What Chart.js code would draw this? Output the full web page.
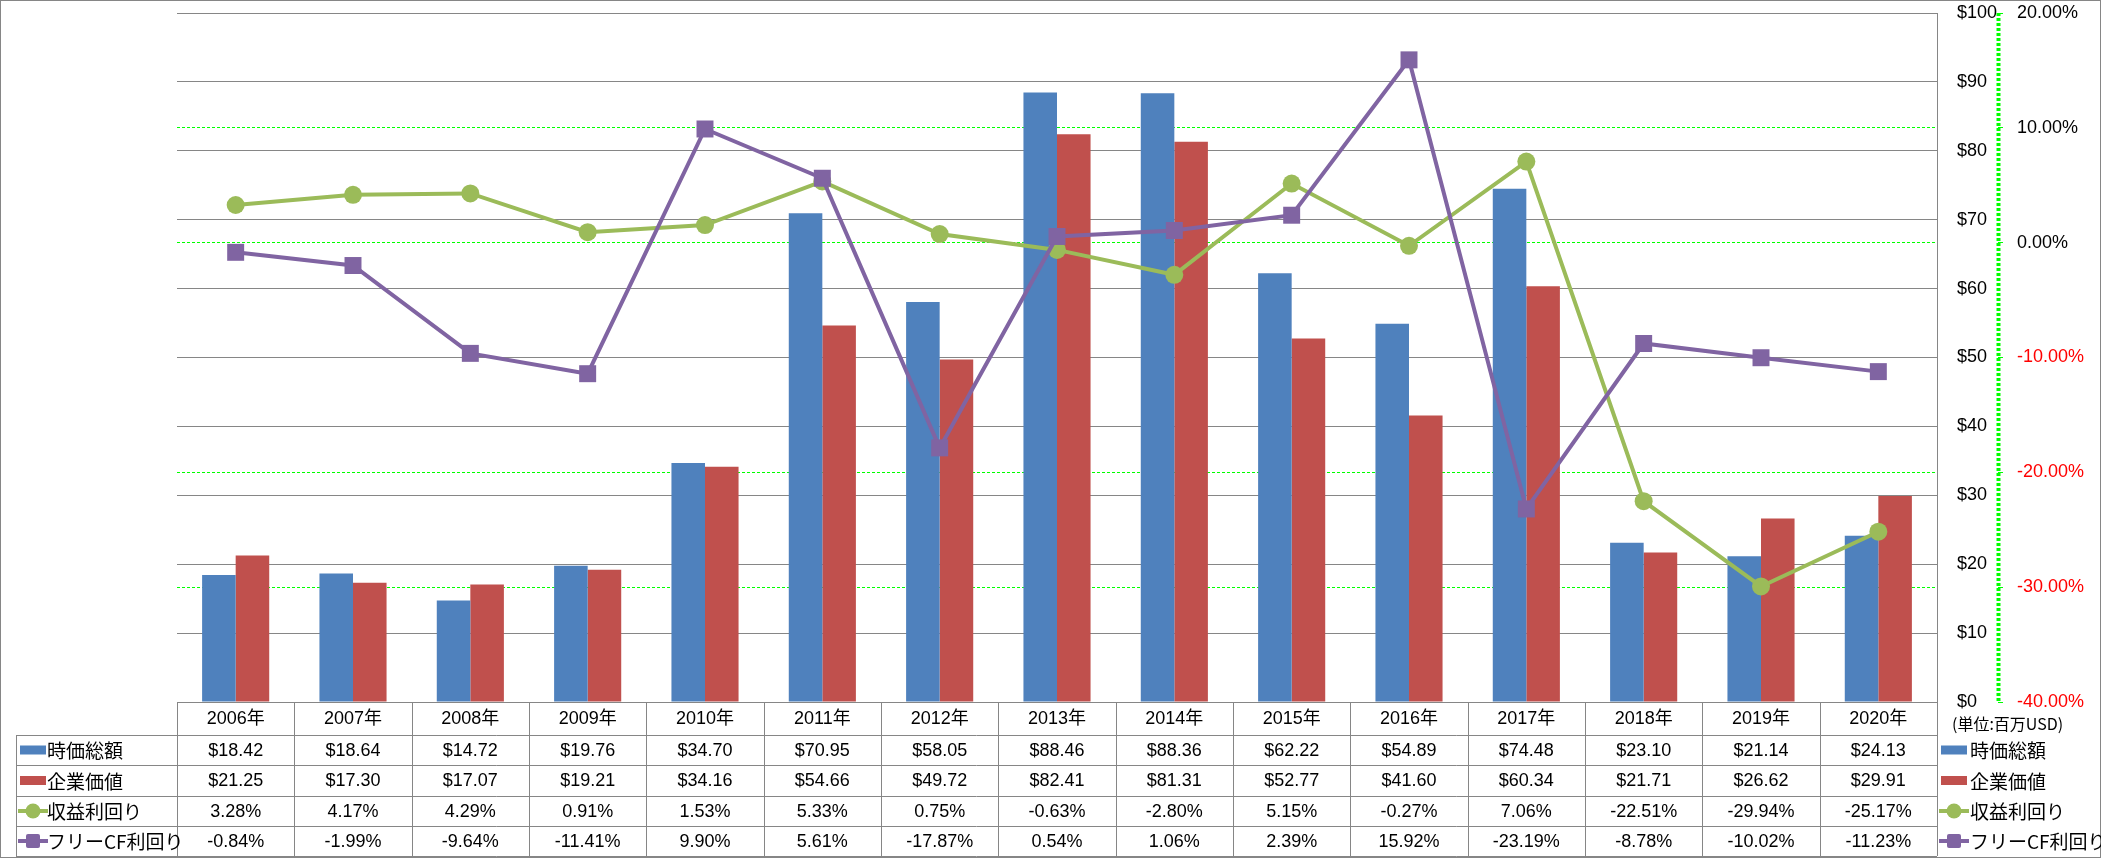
<!DOCTYPE html>
<html>
<head>
<meta charset="utf-8">
<script src="https://cdn.jsdelivr.net/npm/chart.js@4.4.1/dist/chart.umd.min.js"></script>
<style>
  html, body { margin: 0; padding: 0; background: #fff; }
  canvas { display: block; }
</style>
</head>
<body>
<canvas id="myChart" width="2101" height="858"></canvas>
<script>
const years = ['2006', '2007', '2008', '2009', '2010', '2011', '2012', '2013', '2014', '2015', '2016', '2017', '2018', '2019', '2020'];
const marketCap = [18.42, 18.64, 14.72, 19.76, 34.70, 70.95, 58.05, 88.46, 88.36, 62.22, 54.89, 74.48, 23.10, 21.14, 24.13];
const enterpriseValue = [21.25, 17.30, 17.07, 19.21, 34.16, 54.66, 49.72, 82.41, 81.31, 52.77, 41.60, 60.34, 21.71, 26.62, 29.91];
const earningsYield = [3.28, 4.17, 4.29, 0.91, 1.53, 5.33, 0.75, -0.63, -2.80, 5.15, -0.27, 7.06, -22.51, -29.94, -25.17];
const fcfYield = [-0.84, -1.99, -9.64, -11.41, 9.90, 5.61, -17.87, 0.54, 1.06, 2.39, 15.92, -23.19, -8.78, -10.02, -11.23];
const seriesNames = ['時価総額', '企業価値', '収益利回り', 'フリーCF利回り'];
const unitLabel = '(単位:百万USD)';

const LATIN = "'Liberation Sans', 'Noto Sans CJK JP', sans-serif";
const CJK = "'Noto Sans CJK JP', sans-serif";
const GRAY = '#868686';
const LIME = '#00FF00';
const colors = ['#4F81BD', '#C0504D', '#9BBB59', '#8064A2'];

const labels = years.map(y => y + '年');
const tableRows = [
  marketCap.map(v => '$' + v.toFixed(2)),
  enterpriseValue.map(v => '$' + v.toFixed(2)),
  earningsYield.map(v => v.toFixed(2) + '%'),
  fcfYield.map(v => v.toFixed(2) + '%'),
];
// header row, then one row per series
const rowHeights = [33, 30, 31, 30, 30];

function drawKey(ctx, x, y, i) {
  const c = colors[i];
  ctx.fillStyle = c;
  if (i < 2) {
    ctx.fillRect(x, y - 4.5, 26, 9);
    return;
  }
  ctx.strokeStyle = c;
  ctx.lineWidth = 4;
  ctx.beginPath();
  ctx.moveTo(x - 2, y);
  ctx.lineTo(x + 28, y);
  ctx.stroke();
  if (i === 2) {
    ctx.beginPath();
    ctx.arc(x + 13, y, 7.5, 0, Math.PI * 2);
    ctx.fill();
  } else {
    ctx.beginPath();
    ctx.roundRect(x + 6, y - 7, 14, 14, 2);
    ctx.fill();
  }
}

const tablePlugin = {
  id: 'dataTable',
  afterDraw(chart) {
    const ctx = chart.ctx;
    const area = chart.chartArea;
    const n = years.length;
    const cat = (area.right - area.left) / n;
    const ys = [area.bottom];
    rowHeights.forEach(h => ys.push(ys[ys.length - 1] + h));
    const tableLeft = 16;

    ctx.save();
    // grid of the table
    ctx.strokeStyle = GRAY;
    ctx.lineWidth = 1;
    ctx.beginPath();
    for (let r = 1; r < ys.length; r++) {
      const y = Math.round(ys[r]) + 0.5;
      ctx.moveTo(tableLeft, y);
      ctx.lineTo(area.right, y);
    }
    for (let i = 0; i <= n; i++) {
      const x = Math.round(area.left + i * cat) + 0.5;
      ctx.moveTo(x, ys[0]);
      ctx.lineTo(x, ys[ys.length - 1]);
    }
    ctx.moveTo(tableLeft + 0.5, ys[1]);
    ctx.lineTo(tableLeft + 0.5, ys[ys.length - 1]);
    ctx.stroke();

    // outer frame
    ctx.strokeRect(0.5, 0.5, chart.width - 1, chart.height - 1);

    // text
    ctx.fillStyle = '#000';
    ctx.textBaseline = 'middle';
    ctx.textAlign = 'center';
    ctx.font = '18px ' + LATIN;
    for (let i = 0; i < n; i++) {
      const cx = area.left + (i + 0.5) * cat;
      ctx.fillText(labels[i], cx, (ys[0] + ys[1]) / 2 + 1);
      tableRows.forEach((row, r) => {
        ctx.fillText(row[i], cx, (ys[r + 1] + ys[r + 2]) / 2 + 1);
      });
    }

    // series keys, left column and right side
    const rightX = chart.scales.y.left + 4;
    seriesNames.forEach((name, r) => {
      const cy = (ys[r + 1] + ys[r + 2]) / 2;
      drawKey(ctx, 20, cy, r);
      drawKey(ctx, rightX, cy, r);
      ctx.fillStyle = '#000';
      ctx.textAlign = 'left';
      ctx.font = '19px ' + CJK;
      ctx.fillText(name, 47, cy + 1);
      ctx.fillText(name, rightX + 29, cy + 1);
    });

    ctx.font = '16px ' + CJK;
    ctx.fillText(unitLabel, chart.scales.y.left + 15, ys[0] + 22);

    // dashed % axis line
    const ax = Math.round(chart.scales.y1.left) + 0.5;
    ctx.strokeStyle = LIME;
    ctx.setLineDash([3, 2]);
    ctx.beginPath();
    ctx.moveTo(ax, area.top);
    ctx.lineTo(ax, area.bottom);
    ctx.stroke();
    ctx.restore();
  }
};

// fixed axis widths, and no extra space above/below the plot for labels
function fixAxis(width) {
  return s => {
    s.width = width;
    s.paddingTop = 0;
    s.paddingBottom = 0;
  };
}

Chart.defaults.font.family = LATIN;
Chart.defaults.font.size = 18;
Chart.defaults.color = '#000';

const ctx = document.getElementById('myChart');
new Chart(ctx, {
  type: 'bar',
  data: {
    labels: labels,
    datasets: [
      {
        type: 'line',
        label: seriesNames[3],
        data: fcfYield,
        yAxisID: 'y1',
        order: 0,
        borderColor: colors[3],
        backgroundColor: colors[3],
        borderWidth: 4,
        tension: 0,
        pointStyle: 'rect',
        pointRadius: 12,
        pointBorderWidth: 0,
      },
      {
        type: 'line',
        label: seriesNames[2],
        data: earningsYield,
        yAxisID: 'y1',
        order: 1,
        borderColor: colors[2],
        backgroundColor: colors[2],
        borderWidth: 4,
        tension: 0,
        pointStyle: 'circle',
        pointRadius: 9,
        pointBorderWidth: 0,
      },
      {
        label: seriesNames[0],
        data: marketCap,
        yAxisID: 'y',
        order: 2,
        backgroundColor: colors[0],
        categoryPercentage: 0.572,
        barPercentage: 1,
      },
      {
        label: seriesNames[1],
        data: enterpriseValue,
        yAxisID: 'y',
        order: 2,
        backgroundColor: colors[1],
        categoryPercentage: 0.572,
        barPercentage: 1,
      },
    ]
  },
  options: {
    responsive: false,
    animation: false,
    layout: { padding: { left: 177, top: 13, bottom: 156, right: 0 } },
    plugins: {
      legend: { display: false },
      tooltip: { enabled: false }
    },
    scales: {
      x: { display: false },
      y: {
        position: 'right',
        min: 0,
        max: 100,
        afterFit: fixAxis(61),
        ticks: { stepSize: 10, padding: 20, callback: v => '$' + v },
        grid: { color: GRAY, drawTicks: false },
        border: { color: GRAY, width: 1 }
      },
      y1: {
        position: 'right',
        min: -40,
        max: 20,
        afterFit: fixAxis(103),
        ticks: {
          stepSize: 10,
          padding: 14,
          callback: v => v.toFixed(2) + '%',
          color: c => c.tick.value < 0 ? '#FF0000' : '#000'
        },
        grid: {
          // under the $ gridlines (default grid z is -1)
          z: -2,
          color: c => (c.tick && (c.tick.value === 20 || c.tick.value === -40)) ? 'rgba(0,0,0,0)' : LIME,
          tickColor: LIME,
          tickLength: 5
        },
        border: { display: false, dash: [3, 2] }
      }
    }
  },
  plugins: [tablePlugin]
});
</script>
</body>
</html>
